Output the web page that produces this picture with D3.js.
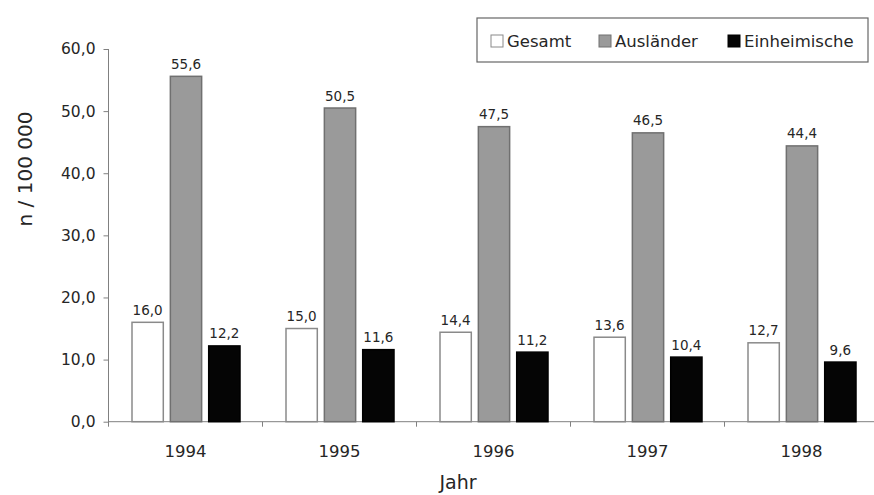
<!DOCTYPE html>
<html>
<head>
<meta charset="utf-8">
<script src="https://cdn.jsdelivr.net/npm/d3@7"></script>
<style>
  body { margin: 0; background: #fff; }
  text { font-family: "DejaVu Sans", Verdana, sans-serif; fill: #262626; }
</style>
</head>
<body>
<svg id="chart" width="874" height="495"></svg>
<script>
const years = ["1994", "1995", "1996", "1997", "1998"];
const seriesNames = ["Gesamt", "Ausländer", "Einheimische"];
const gesamt = [16.0, 15.0, 14.4, 13.6, 12.7];
const auslaender = [55.6, 50.5, 47.5, 46.5, 44.4];
const einheimische = [12.2, 11.6, 11.2, 10.4, 9.6];
const yTicks = [0, 10, 20, 30, 40, 50, 60];

const seriesValues = [gesamt, auslaender, einheimische];
const fills = ["#ffffff", "#9a9a9a", "#050505"];
const strokes = ["#8a8a8a", "#707070", "#000000"];

const svg = d3.select("#chart");
const margin = {left: 108.5, right: -4.5, top: 49, bottom: 73.3};
const width = 874, height = 495;

const fmt = v => d3.format(".1f")(v).replace(".", ",");

const x0 = d3.scaleBand()
  .domain(years)
  .range([margin.left, width - margin.right])
  .paddingInner(0).paddingOuter(0);

const x1 = d3.scaleBand()
  .domain(seriesNames)
  .range([23, x0.bandwidth() - 22])
  .paddingInner(0.158);

const y = d3.scaleLinear()
  .domain([0, 60])
  .range([height - margin.bottom, margin.top]);

// y axis
const yAxis = svg.append("g")
  .attr("transform", "translate(" + margin.left + ",0)")
  .call(d3.axisLeft(y).tickValues(yTicks).tickSize(5).tickPadding(8).tickFormat(fmt));
yAxis.select(".domain").attr("stroke", "#808080").attr("d", "M0," + y(60) + "V" + (y(0) + 5));
yAxis.selectAll(".tick line").attr("stroke", "#808080");
yAxis.selectAll(".tick text").style("font-size", "15.5px").attr("fill", "#262626");

// x axis, ticks on the category boundaries
const xAxisG = svg.append("g")
  .attr("transform", "translate(0," + y(0) + ")");
xAxisG.append("line")
  .attr("x1", margin.left).attr("x2", width)
  .attr("stroke", "#808080");
xAxisG.selectAll(".xtick")
  .data(years.slice(1))
  .enter().append("line")
  .attr("x1", d => x0(d)).attr("x2", d => x0(d))
  .attr("y1", 0).attr("y2", 5)
  .attr("stroke", "#808080");
xAxisG.selectAll(".xlabel")
  .data(years)
  .enter().append("text")
  .attr("x", d => x0(d) + x0.bandwidth() / 2)
  .attr("y", 35.5)
  .attr("text-anchor", "middle")
  .style("font-size", "16.5px")
  .text(d => d);

// bars
const groups = svg.selectAll(".group")
  .data(years)
  .enter().append("g")
  .attr("class", "group")
  .attr("transform", d => "translate(" + x0(d) + ",0)");

groups.selectAll("rect")
  .data((d, i) => seriesNames.map((s, j) => ({s: s, j: j, v: seriesValues[j][i]})))
  .enter().append("rect")
  .attr("x", d => x1(d.s) + 0.5)
  .attr("y", d => y(d.v))
  .attr("width", x1.bandwidth() - 1)
  .attr("height", d => y(0) - y(d.v))
  .attr("fill", d => fills[d.j])
  .attr("stroke", d => strokes[d.j])
  .attr("stroke-width", 1.5);

groups.selectAll(".val")
  .data((d, i) => seriesNames.map((s, j) => ({s: s, j: j, v: seriesValues[j][i]})))
  .enter().append("text")
  .attr("class", "val")
  .attr("x", d => x1(d.s) + x1.bandwidth() / 2)
  .attr("y", d => y(d.v) - 7.5)
  .attr("text-anchor", "middle")
  .style("font-size", "13.5px")
  .text(d => fmt(d.v));

// axis titles
svg.append("text")
  .attr("transform", "translate(32,169) rotate(-90)")
  .attr("text-anchor", "middle")
  .style("font-size", "20px")
  .text("n / 100 000");

svg.append("text")
  .attr("x", 458).attr("y", 489)
  .attr("text-anchor", "middle")
  .style("font-size", "19px")
  .text("Jahr");

// legend
const legend = svg.append("g").attr("transform", "translate(477,18)");
legend.append("rect")
  .attr("width", 391).attr("height", 44)
  .attr("fill", "#fff").attr("stroke", "#666").attr("stroke-width", 1.2);

const legX = [14, 122, 251];
const items = legend.selectAll(".item")
  .data(seriesNames)
  .enter().append("g")
  .attr("transform", (d, i) => "translate(" + legX[i] + ",17)");
items.append("rect")
  .attr("width", 12).attr("height", 12)
  .attr("fill", (d, i) => fills[i])
  .attr("stroke", (d, i) => strokes[i]);
items.append("text")
  .attr("x", 16).attr("y", 12)
  .style("font-size", "16.5px")
  .text(d => d);
</script>
</body>
</html>
